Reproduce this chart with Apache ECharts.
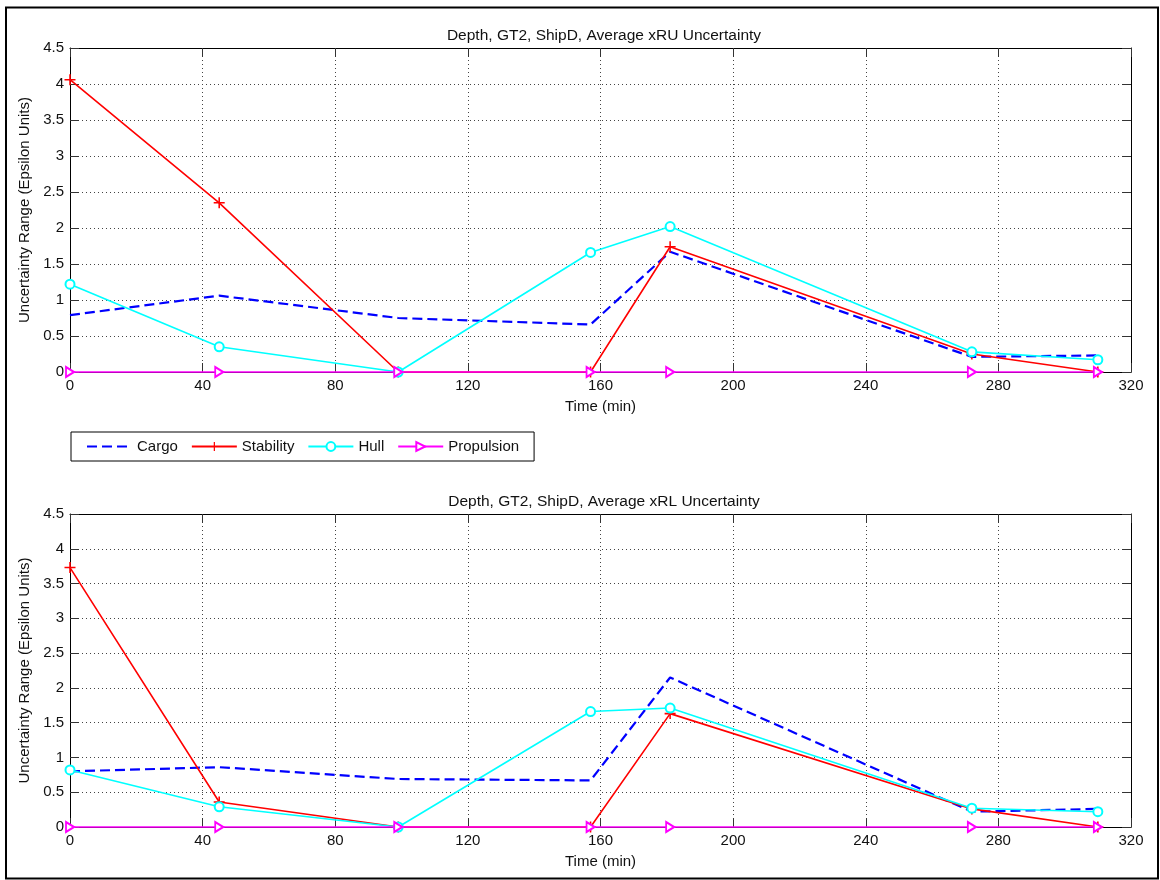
<!DOCTYPE html>
<html><head><meta charset="utf-8">
<script src="https://cdn.jsdelivr.net/npm/echarts@6/dist/echarts.min.js"></script>
<style>html,body{margin:0;padding:0;background:#fff}#c{width:1160px;height:880px}</style>
</head><body><div id="c"></div>
<script>
// ---- data ----
const timeMin = [0, 45, 99, 157, 181, 272, 310];
const seriesNames = ['Cargo', 'Stability', 'Hull', 'Propulsion'];
const chartTitles = ['Depth, GT2, ShipD, Average xRU Uncertainty', 'Depth, GT2, ShipD, Average xRL Uncertainty'];
const xAxisName = 'Time (min)';
const yAxisName = 'Uncertainty Range (Epsilon Units)';
// upper plot (xRU)
const ruCargo      = [0.79, 1.06, 0.75, 0.66, 1.67, 0.21, 0.23];
const ruStability  = [4.06, 2.35, 0, 0, 1.74, 0.25, 0];
const ruHull       = [1.22, 0.35, 0, 1.66, 2.02, 0.28, 0.17];
const ruPropulsion = [0, 0, 0, 0, 0, 0, 0];
// lower plot (xRL)
const rlCargo      = [0.80, 0.86, 0.69, 0.67, 2.15, 0.22, 0.26];
const rlStability  = [3.73, 0.36, 0, 0, 1.63, 0.26, 0];
const rlHull       = [0.82, 0.29, 0, 1.66, 1.71, 0.27, 0.22];
const rlPropulsion = [0, 0, 0, 0, 0, 0, 0];

const FONT = 'Liberation Sans, Arial, sans-serif';
const FS = 15;
const pair = (ys) => timeMin.map((t, i) => [t, ys[i]]);

const grids = [
  { left: 70, top: 48, width: 1061, height: 324 },
  { left: 70, top: 514, width: 1061, height: 313 }
];

function xAx(gi, main) {
  return {
    type: 'value', gridIndex: gi, min: 0, max: 320, interval: 40,
    position: main ? 'bottom' : 'top',
    name: main ? xAxisName : '', nameLocation: 'middle', nameGap: 27,
    nameTextStyle: { fontFamily: FONT, fontSize: FS, color: '#111' },
    axisLine: { show: true, onZero: false, lineStyle: { color: '#000', width: 1 } },
    axisTick: { show: true, inside: true, length: 9, lineStyle: { color: '#333', width: 1 } },
    axisLabel: { show: main, margin: 6, fontFamily: FONT, fontSize: FS, color: '#111' },
    splitLine: { show: main, lineStyle: { color: '#444', width: 1, type: [1, 3] } }
  };
}
function yAx(gi, main) {
  return {
    type: 'value', gridIndex: gi, min: 0, max: 4.5, interval: 0.5,
    position: main ? 'left' : 'right',
    name: main ? yAxisName : '', nameLocation: 'middle', nameGap: 37,
    nameTextStyle: { fontFamily: FONT, fontSize: FS, color: '#111' },
    axisLine: { show: true, onZero: false, lineStyle: { color: '#000', width: 1 } },
    axisTick: { show: true, inside: true, length: 9, lineStyle: { color: '#333', width: 1 } },
    axisLabel: { show: main, margin: 6, fontFamily: FONT, fontSize: FS, color: '#111' },
    splitLine: { show: main, lineStyle: { color: '#444', width: 1, type: [1, 3] } }
  };
}

const PLUS = 'path://M0,4.3H10V5.7H0Z M4.3,0H5.7V10H4.3Z';

function seriesFor(gi, cargo, stab, hull, prop) {
  const ax = gi * 2;
  return [
    { name: seriesNames[0], type: 'line', xAxisIndex: ax, yAxisIndex: ax, data: pair(cargo),
      symbol: 'none', clip: false, z: 3,
      lineStyle: { color: '#0000ff', width: 2.2, type: [10, 5] }, itemStyle: { color: '#0000ff' } },
    { name: seriesNames[1], type: 'line', xAxisIndex: ax, yAxisIndex: ax, data: pair(stab),
      symbol: PLUS, symbolSize: 11, clip: false, z: 4,
      lineStyle: { color: '#ff0000', width: 1.6 }, itemStyle: { color: '#ff0000' } },
    { name: seriesNames[2], type: 'line', xAxisIndex: ax, yAxisIndex: ax, data: pair(hull),
      symbol: 'emptyCircle', symbolSize: 9, clip: false, z: 5,
      lineStyle: { color: '#00ffff', width: 1.6 }, itemStyle: { color: '#00ffff', borderWidth: 1.5 } },
    { name: seriesNames[3], type: 'line', xAxisIndex: ax, yAxisIndex: ax, data: pair(prop),
      symbol: 'emptyTriangle', symbolRotate: -90, symbolSize: [10, 8], clip: false, z: 6,
      lineStyle: { color: '#ff00ff', width: 1.6 }, itemStyle: { color: '#ff00ff', borderWidth: 1.5 } }
  ];
}

const option = {
  animation: false,
  backgroundColor: '#fff',
  title: [
    { text: chartTitles[0], left: 599, top: 23, textAlign: 'center',
      textStyle: { fontFamily: FONT, fontSize: 15.5, fontWeight: 'normal', color: '#111' } },
    { text: chartTitles[1], left: 599, top: 489, textAlign: 'center',
      textStyle: { fontFamily: FONT, fontSize: 15.5, fontWeight: 'normal', color: '#111' } }
  ],
  legend: {
    left: 71, top: 432, orient: 'horizontal',
    padding: [7, 15, 7, 15], itemGap: 13, itemWidth: 45, itemHeight: 11,
    borderColor: '#000', borderWidth: 1, backgroundColor: '#fff',
    textStyle: { fontFamily: FONT, fontSize: FS, color: '#111' },
    data: [
      { name: seriesNames[0], itemStyle: { opacity: 0 } },
      { name: seriesNames[1] },
      { name: seriesNames[2] },
      { name: seriesNames[3] }
    ]
  },
  grid: grids,
  xAxis: [xAx(0, true), xAx(0, false), xAx(1, true), xAx(1, false)],
  yAxis: [yAx(0, true), yAx(0, false), yAx(1, true), yAx(1, false)],
  series: [
    ...seriesFor(0, ruCargo, ruStability, ruHull, ruPropulsion),
    ...seriesFor(1, rlCargo, rlStability, rlHull, rlPropulsion)
  ],
  graphic: [
    { type: 'rect', shape: { x: 6, y: 7.5, width: 1152, height: 871 },
      style: { fill: 'none', stroke: '#000', lineWidth: 2 }, silent: true, z: 100 }
  ]
};

const chart = echarts.init(document.getElementById('c'), null, { renderer: 'canvas' });
chart.setOption(option);
</script>
</body></html>
